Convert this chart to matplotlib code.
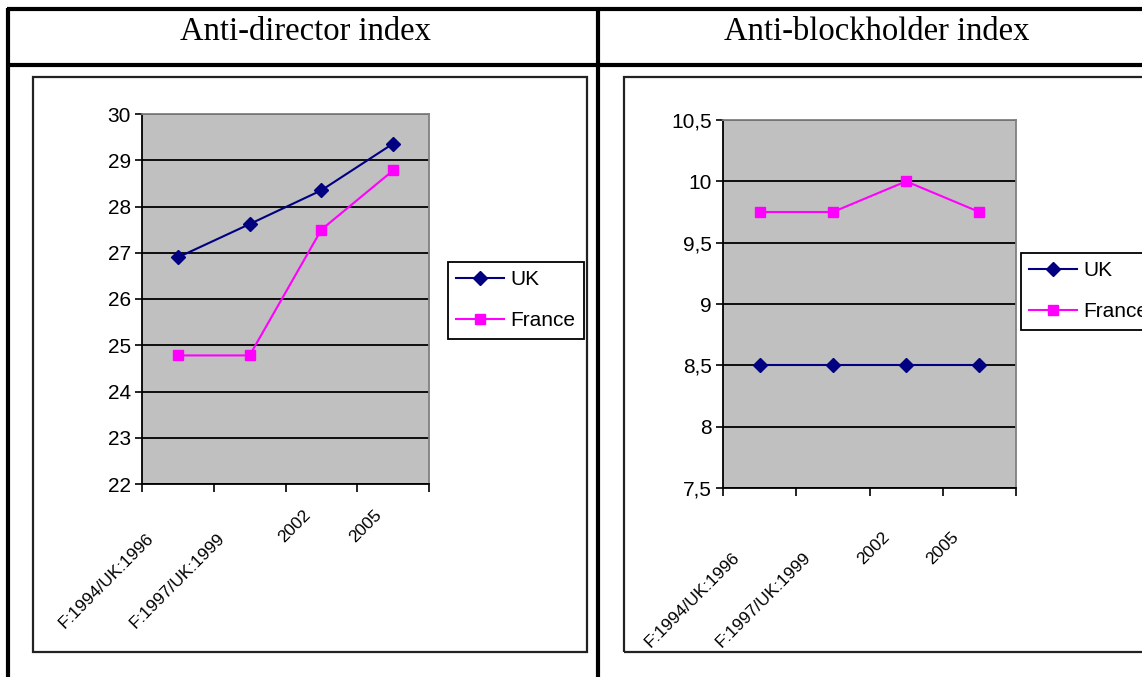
import matplotlib

matplotlib.use("Agg")
import matplotlib.pyplot as plt
from matplotlib.lines import Line2D
from matplotlib.patches import Rectangle
from matplotlib.transforms import ScaledTranslation

# data
categories = ["F:1994/UK:1996", "F:1997/UK:1999", "2002", "2005"]
series_names = ["UK", "France"]

director_uk = [26.9, 27.62, 28.35, 29.36]
director_fr = [24.78, 24.78, 27.5, 28.78]
director_ticks = [22, 23, 24, 25, 26, 27, 28, 29, 30]
director_ticklabels = ["22", "23", "24", "25", "26", "27", "28", "29", "30"]

block_uk = [8.5, 8.5, 8.5, 8.5]
block_fr = [9.75, 9.75, 10.0, 9.75]
block_ticks = [7.5, 8, 8.5, 9, 9.5, 10, 10.5]
block_ticklabels = ["7,5", "8", "8,5", "9", "9,5", "10", "10,5"]

titles = ["Anti-director index", "Anti-blockholder index"]

W, H = 1142, 677
UK_COLOR = "#000080"
FR_COLOR = "#FF00FF"
SANS = ["Liberation Sans", "DejaVu Sans"]
SERIF = ["Liberation Serif", "DejaVu Serif"]

fig = plt.figure(figsize=(W / 100, H / 100), dpi=100)


def fx(px):
    return px / W


def fy(py):
    return 1 - py / H


def hline(y, x0, x1, lw=3):
    fig.add_artist(Line2D([fx(x0), fx(x1)], [fy(y), fy(y)], color="black", lw=lw,
                          transform=fig.transFigure, solid_capstyle="butt"))


def vline(x, y0, y1, lw=3):
    fig.add_artist(Line2D([fx(x), fx(x)], [fy(y0), fy(y1)], color="black", lw=lw,
                          transform=fig.transFigure, solid_capstyle="butt"))


# table frame
hline(9, 7, W)
hline(65, 7, W)
vline(8, 8, H)
vline(598, 8, H)

for title, cx in zip(titles, [305, 877]):
    fig.text(fx(cx), fy(40), title, ha="center", va="baseline", fontsize=23.5, family=SERIF)

# chart boxes
for x0, x1 in [(33, 587), (624, 1190)]:
    fig.add_artist(Rectangle((fx(x0), fy(652)), fx(x1 - x0), (652 - 77) / H, fill=False,
                             edgecolor="#222222", lw=1.6, transform=fig.transFigure))


def draw_chart(rect, uk, fr, ticks, ticklabels, label_offsets, legend_xy):
    x0, y0, x1, y1 = rect
    ax = fig.add_axes([fx(x0), fy(y1), fx(x1 - x0), (y1 - y0) / H])
    ax.set_facecolor("#C0C0C0")
    xs = list(range(len(categories)))
    ax.plot(xs, uk, color=UK_COLOR, lw=1.5, marker="D", ms=7.5, label=series_names[0], zorder=3)
    ax.plot(xs, fr, color=FR_COLOR, lw=1.5, marker="s", ms=7.5, label=series_names[1], zorder=3)
    ax.set_xlim(-0.5, len(categories) - 0.5)
    ax.set_ylim(ticks[0], ticks[-1])
    ax.set_yticks(ticks)
    ax.set_yticklabels(ticklabels, family=SANS, fontsize=15)
    ax.yaxis.grid(True, color="black", lw=1.3)
    ax.set_axisbelow(True)
    ax.tick_params(axis="y", direction="out", length=5, width=1.2, pad=3)

    ax.set_xticks([i - 0.5 for i in range(len(categories) + 1)], minor=True)
    ax.set_xticks(xs)
    ax.set_xticklabels(categories, family=SANS, fontsize=12.5, rotation=45,
                       ha="right", va="center", rotation_mode="anchor")
    ax.tick_params(axis="x", which="major", length=0, pad=0)
    ax.tick_params(axis="x", which="minor", direction="out", length=6, width=1.2)
    for lab, (dx, dy) in zip(ax.get_xticklabels(), label_offsets):
        lab.set_transform(lab.get_transform() + ScaledTranslation(dx / 100, -dy / 100, fig.dpi_scale_trans))

    for side in ["left", "bottom"]:
        ax.spines[side].set_color("black")
        ax.spines[side].set_linewidth(1.3)
    for side in ["top", "right"]:
        ax.spines[side].set_color("#808080")
        ax.spines[side].set_linewidth(1.3)

    leg = ax.legend(loc="upper left", bbox_to_anchor=(fx(legend_xy[0]), fy(legend_xy[1])),
                    bbox_transform=fig.transFigure, borderaxespad=0, fancybox=False,
                    edgecolor="black", framealpha=1, prop={"family": SANS, "size": 15},
                    handlelength=2.3, handletextpad=0.3, labelspacing=1.05, borderpad=0.4)
    leg.get_frame().set_linewidth(1.3)
    return ax


draw_chart((142, 114, 429, 484), director_uk, director_fr, director_ticks, director_ticklabels,
           [(-27, 52), (-27, 52), (-13, 29), (-14, 29)], (448, 262))
draw_chart((723, 120, 1016, 488), block_uk, block_fr, block_ticks, block_ticklabels,
           [(-22, 67), (-25, 67), (-19, 47), (-23, 47)], (1021, 253))

fig.savefig("out.png", dpi=100)
